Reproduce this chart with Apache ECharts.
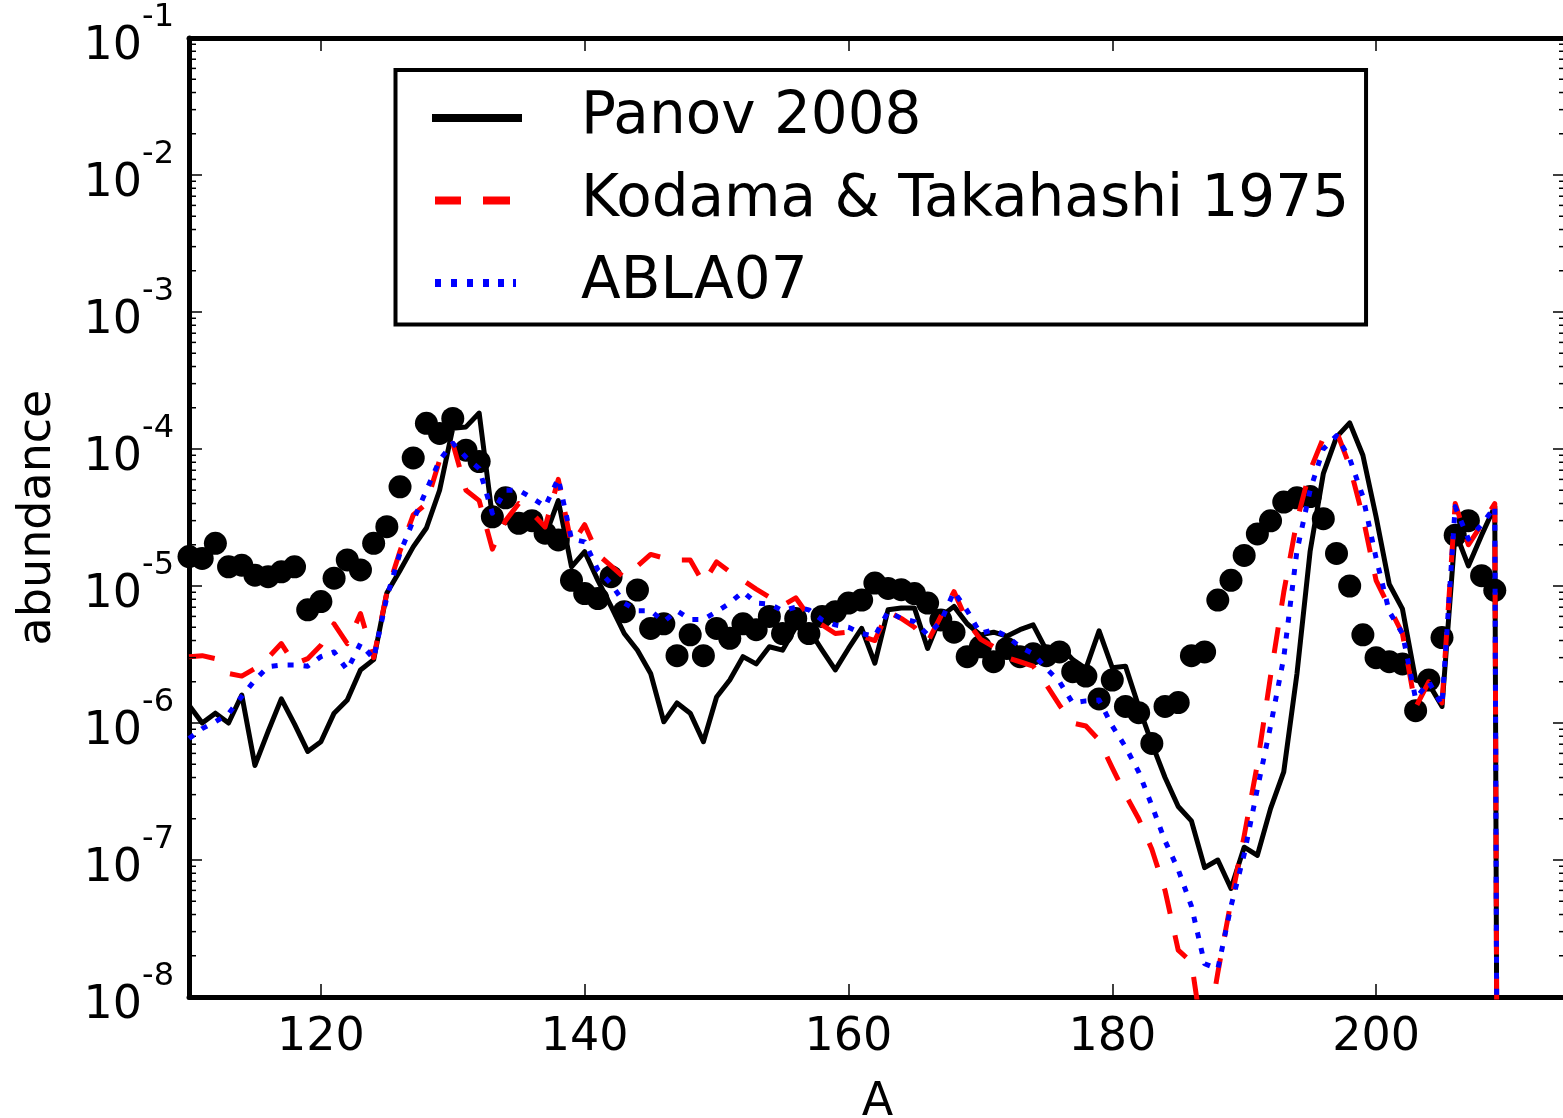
<!DOCTYPE html>
<html>
<head>
<meta charset="utf-8">
<script src="https://cdn.jsdelivr.net/npm/echarts/dist/echarts.min.js"></script>
<style>
html,body{margin:0;padding:0;background:#fff;}
#chart{width:1563px;height:1118px;}
</style>
</head>
<body>
<div id="chart"></div>
<script>
// Mass number A (last point = drop to zero at the end of the network)
const A = [110,111,112,113,114,115,116,117,118,119,120,121,122,123,124,125,126,127,128,129,
           130,131,132,133,134,135,136,137,138,139,140,141,142,143,144,145,146,147,148,149,
           150,151,152,153,154,155,156,157,158,159,160,161,162,163,164,165,166,167,168,169,
           170,171,172,173,174,175,176,177,178,179,180,181,182,183,184,185,186,187,188,189,
           190,191,192,193,194,195,196,197,198,199,200,201,202,203,204,205,206,207,208,209,210];

const panov2008 = [1.35e-6,1.0e-6,1.18e-6,1.0e-6,1.6e-6,4.9e-7,8.7e-7,1.5e-6,9.8e-7,6.2e-7,
  7.3e-7,1.18e-6,1.47e-6,2.44e-6,2.9e-6,8.9e-6,1.3e-5,1.93e-5,2.65e-5,5.0e-5,
  1.42e-4,1.45e-4,1.83e-4,3.2e-5,2.9e-5,3.2e-5,2.7e-5,2.3e-5,4.2e-5,1.38e-5,
  1.78e-5,1.1e-5,7.1e-6,4.5e-6,3.4e-6,2.3e-6,1.02e-6,1.4e-6,1.18e-6,7.3e-7,
  1.55e-6,2.06e-6,3.05e-6,2.7e-6,3.6e-6,3.4e-6,5.0e-6,4.8e-6,3.4e-6,2.44e-6,
  3.5e-6,4.9e-6,2.73e-6,6.7e-6,6.9e-6,6.9e-6,3.5e-6,6.0e-6,7.1e-6,5.3e-6,
  4.4e-6,4.6e-6,4.3e-6,4.8e-6,5.2e-6,3.4e-6,3.7e-6,2.9e-6,2.5e-6,4.7e-6,
  2.53e-6,2.6e-6,1.32e-6,7.1e-7,4.0e-7,2.46e-7,1.93e-7,8.8e-8,1.0e-7,6.2e-8,
  1.24e-7,1.08e-7,2.37e-7,4.4e-7,2.28e-6,1.79e-5,6.6e-5,1.22e-4,1.55e-4,9.0e-5,
  3.2e-5,1.03e-5,6.8e-6,2.06e-6,1.93e-6,1.32e-6,2.5e-5,1.4e-5,2.35e-5,3.8e-5,1e-30];

const kodama1975 = [3.05e-6,3.1e-6,2.95e-6,2.3e-6,2.2e-6,2.5e-6,3.0e-6,3.8e-6,2.7e-6,2.95e-6,
  3.7e-6,5.3e-6,3.8e-6,6.3e-6,3.0e-6,9.0e-6,1.8e-5,3.3e-5,4.0e-5,8.3e-5,
  1.1e-4,5.0e-5,4.2e-5,1.86e-5,3.0e-5,4.0e-5,3.4e-5,2.7e-5,6.0e-5,2.0e-5,
  2.8e-5,1.7e-5,1.4e-5,1.15e-5,1.4e-5,1.7e-5,1.6e-5,1.55e-5,1.55e-5,1.05e-5,
  1.5e-5,1.27e-5,1.1e-5,9.5e-6,8.3e-6,7.2e-6,8.2e-6,6.0e-6,5.2e-6,4.5e-6,
  4.6e-6,4.3e-6,4.0e-6,6.5e-6,5.8e-6,5.0e-6,3.9e-6,6.0e-6,9.1e-6,5.5e-6,
  4.1e-6,3.6e-6,3.0e-6,2.8e-6,2.6e-6,1.9e-6,1.35e-6,1.0e-6,9.5e-7,7.5e-7,
  4.7e-7,3.0e-7,2.0e-7,1.2e-7,6.0e-8,2.2e-8,1.8e-8,4.0e-9,1.5e-8,5.0e-8,
  1.5e-7,5.0e-7,2.2e-6,9.0e-6,3.0e-5,7.0e-5,1.2e-4,1.35e-4,7.5e-5,3.2e-5,
  1.1e-5,7.0e-6,4.5e-6,1.3e-6,2.0e-6,1.4e-6,4.0e-5,2.0e-5,2.8e-5,4.0e-5,1e-30];

const abla07 = [7.7e-7,9.1e-7,1.02e-6,1.17e-6,1.56e-6,2.06e-6,2.58e-6,2.65e-6,2.65e-6,2.6e-6,
  3.05e-6,3.3e-6,2.44e-6,3.8e-6,2.95e-6,8.3e-6,1.74e-5,3.0e-5,5.0e-5,8.3e-5,
  1.1e-4,8.7e-5,7.2e-5,3.4e-5,5.0e-5,5.0e-5,4.4e-5,3.8e-5,6.1e-5,2.2e-5,
  2.1e-5,1.31e-5,1.04e-5,7.5e-6,6.6e-6,6.6e-6,5.5e-6,6.6e-6,5.7e-6,5.7e-6,
  6.5e-6,7.5e-6,9.1e-6,7.5e-6,7.4e-6,6.6e-6,7.0e-6,6.7e-6,5.65e-6,5.2e-6,
  5.0e-6,4.5e-6,4.3e-6,6.5e-6,5.8e-6,5.5e-6,4.4e-6,5.5e-6,9.1e-6,6.6e-6,
  4.5e-6,4.8e-6,4.3e-6,3.6e-6,3.2e-6,2.5e-6,2.0e-6,1.4e-6,1.45e-6,1.47e-6,
  9.5e-7,6.7e-7,4.4e-7,2.5e-7,1.38e-7,8.5e-8,4.6e-8,1.75e-8,1.6e-8,4.6e-8,
  1.1e-7,3.3e-7,9.5e-7,3.0e-6,1.8e-5,5.0e-5,1.0e-4,1.25e-4,8.5e-5,4.5e-5,
  1.6e-5,6.5e-6,4.5e-6,1.5e-6,2.0e-6,1.35e-6,3.8e-5,2.2e-5,2.8e-5,3.8e-5,1e-30];

// solar r-process abundances (filled circles), A = 110..209
const solarR = [1.64e-5,1.59e-5,2.05e-5,1.38e-5,1.42e-5,1.2e-5,1.17e-5,1.27e-5,1.38e-5,6.7e-6,
  7.7e-6,1.14e-5,1.55e-5,1.31e-5,2.05e-5,2.71e-5,5.3e-5,8.6e-5,1.54e-4,1.3e-4,
  1.67e-4,9.8e-5,8.1e-5,3.2e-5,4.4e-5,2.87e-5,3.0e-5,2.43e-5,2.17e-5,1.1e-5,
  8.8e-6,8.1e-6,1.17e-5,6.5e-6,9.35e-6,4.9e-6,5.3e-6,3.1e-6,4.4e-6,3.1e-6,
  4.9e-6,4.15e-6,5.3e-6,4.8e-6,6.0e-6,4.5e-6,5.8e-6,4.5e-6,6.0e-6,6.5e-6,
  7.5e-6,7.9e-6,1.05e-5,9.6e-6,9.4e-6,8.8e-6,7.5e-6,5.65e-6,4.6e-6,3.05e-6,
  3.6e-6,2.8e-6,3.5e-6,3.05e-6,3.2e-6,3.1e-6,3.3e-6,2.37e-6,2.2e-6,1.5e-6,
  2.06e-6,1.32e-6,1.19e-6,7.1e-7,1.32e-6,1.41e-6,3.1e-6,3.3e-6,7.9e-6,1.1e-5,
  1.67e-5,2.4e-5,2.99e-5,4.1e-5,4.4e-5,4.5e-5,3.1e-5,1.73e-5,1.0e-5,4.4e-6,
  3.0e-6,2.8e-6,2.7e-6,1.23e-6,2.06e-6,4.2e-6,2.35e-5,3.0e-5,1.19e-5,9.3e-6];

const xTicks = [120,140,160,180,200];
const yTicks = [1e-8,1e-7,1e-6,1e-5,1e-4,1e-3,1e-2,1e-1];
const seriesNames = ['Panov 2008','Kodama & Takahashi 1975','ABLA07'];

const X_MIN = 110, X_MAX = 214.4;
const FONT = 'DejaVu Sans';

// minor log ticks 2..9 x 10^k (axis decoration)
const minorVals = [];
for (let k = -8; k <= -2; k++) for (let m = 2; m <= 9; m++) minorVals.push([X_MIN, m * Math.pow(10, k)]);

const pairs = arr => arr.map((v, i) => [A[i], v]);

const axisLineStyle = {show: true, lineStyle: {color: '#000', width: 5}};
const majorTick = {show: true, inside: true, length: 13, lineStyle: {color: '#000', width: 1.5}};

// legend sample icons (solid / dashed / dotted strokes, 90 x 8 frame)
const iconSolid  = 'path://M0,0L90,0L90,8L0,8Z';
const iconDashed = 'path://M0,0L0,0M90,8L90,8M3,0L29,0L29,8L3,8Z M51,0L78,0L78,8L51,8Z';
const iconDotted = 'path://M0,0L0,0M90,8L90,8M3,0L9,0L9,8L3,8Z M19,0L25,0L25,8L19,8Z M35,0L41,0L41,8L35,8Z M51,0L57,0L57,8L51,8Z M66,0L72,0L72,8L66,8Z M81,0L84,0L84,8L81,8Z';

const chart = echarts.init(document.getElementById('chart'), null, {renderer: 'canvas'});
chart.setOption({
  animation: false,
  backgroundColor: '#fff',
  grid: {left: 189, top: 38, right: -3, bottom: 121, containLabel: false, outerBoundsMode: 'none'},
  xAxis: [{
    type: 'value', min: X_MIN, max: X_MAX, position: 'bottom',
    axisLine: axisLineStyle,
    axisTick: Object.assign({customValues: xTicks}, majorTick),
    axisLabel: {customValues: xTicks, fontSize: 46, fontFamily: FONT, color: '#000', margin: 18, lineHeight: 46},
    splitLine: {show: false},
    name: 'A', nameLocation: 'middle', nameGap: 83,
    nameTextStyle: {fontSize: 46, fontFamily: FONT, color: '#000', lineHeight: 46}
  }, {
    type: 'value', min: X_MIN, max: X_MAX, position: 'top',
    axisLine: axisLineStyle,
    axisTick: Object.assign({customValues: xTicks}, majorTick),
    axisLabel: {show: false},
    splitLine: {show: false}
  }],
  yAxis: [{
    type: 'log', logBase: 10, min: 1e-8, max: 1e-1, position: 'left',
    axisLine: axisLineStyle,
    axisTick: Object.assign({customValues: yTicks}, majorTick),
    axisLabel: {
      customValues: yTicks, margin: 15, padding: [0, 0, 4, 0],
      formatter: v => '{b|10}{s|' + Math.round(Math.log10(v)) + '}',
      rich: {
        b: {fontSize: 46, fontFamily: FONT, color: '#000', lineHeight: 69, verticalAlign: 'bottom'},
        s: {fontSize: 32, fontFamily: FONT, color: '#000', lineHeight: 29, verticalAlign: 'top'}
      }
    },
    splitLine: {show: false},
    name: 'abundance', nameLocation: 'middle', nameGap: 128,
    nameTextStyle: {fontSize: 46, fontFamily: FONT, color: '#000', lineHeight: 46}
  }, {
    type: 'log', logBase: 10, min: 1e-8, max: 1e-1, position: 'right',
    axisLine: axisLineStyle,
    axisTick: Object.assign({customValues: yTicks}, majorTick),
    axisLabel: {show: false},
    splitLine: {show: false}
  }],
  legend: {
    orient: 'vertical', left: 395.5, top: 70,
    padding: [18, 17, 11.5, 36.5],
    itemWidth: 90, itemHeight: 8, itemGap: 22.5,
    backgroundColor: '#fff', borderColor: '#000', borderWidth: 4, borderRadius: 0,
    textStyle: {fontSize: 58, fontFamily: FONT, color: '#000', lineHeight: 60, padding: [0, 0, 0, 54]},
    data: [
      {name: seriesNames[0], icon: iconSolid},
      {name: seriesNames[1], icon: iconDashed},
      {name: seriesNames[2], icon: iconDotted}
    ],
    selectedMode: false
  },
  series: [{
    type: 'custom', name: 'minorTicks', silent: true, clip: false,
    xAxisIndex: 0, yAxisIndex: 0, data: minorVals, z: 5,
    renderItem: (params, api) => {
      const v = api.value(1);
      const pL = api.coord([X_MIN, v]);
      const pR = api.coord([X_MAX, v]);
      return {type: 'group', children: [
        {type: 'line', shape: {x1: pL[0], y1: pL[1], x2: pL[0] + 7, y2: pL[1]}, style: {stroke: '#000', lineWidth: 1.5}},
        {type: 'line', shape: {x1: pR[0] - 7, y1: pR[1], x2: pR[0], y2: pR[1]}, style: {stroke: '#000', lineWidth: 1.5}}
      ]};
    }
  }, {
    type: 'scatter', name: 'solar', data: pairs(solarR), symbol: 'circle', symbolSize: 23,
    itemStyle: {color: '#000', opacity: 1}, z: 2
  }, {
    type: 'line', name: seriesNames[0], data: pairs(panov2008), symbol: 'none', showSymbol: false,
    lineStyle: {color: '#000', width: 5, type: 'solid', join: 'round'}, itemStyle: {color: '#000'}, z: 3
  }, {
    type: 'line', name: seriesNames[1], data: pairs(kodama1975), symbol: 'none', showSymbol: false,
    lineStyle: {color: '#ff0000', width: 5, type: [26, 22], cap: 'butt', join: 'round'}, itemStyle: {color: '#ff0000'}, z: 4
  }, {
    type: 'line', name: seriesNames[2], data: pairs(abla07), symbol: 'none', showSymbol: false,
    lineStyle: {color: '#0000ff', width: 5, type: [6, 10], cap: 'butt', join: 'round'}, itemStyle: {color: '#0000ff'}, z: 5
  }]
});
</script>
</body>
</html>
